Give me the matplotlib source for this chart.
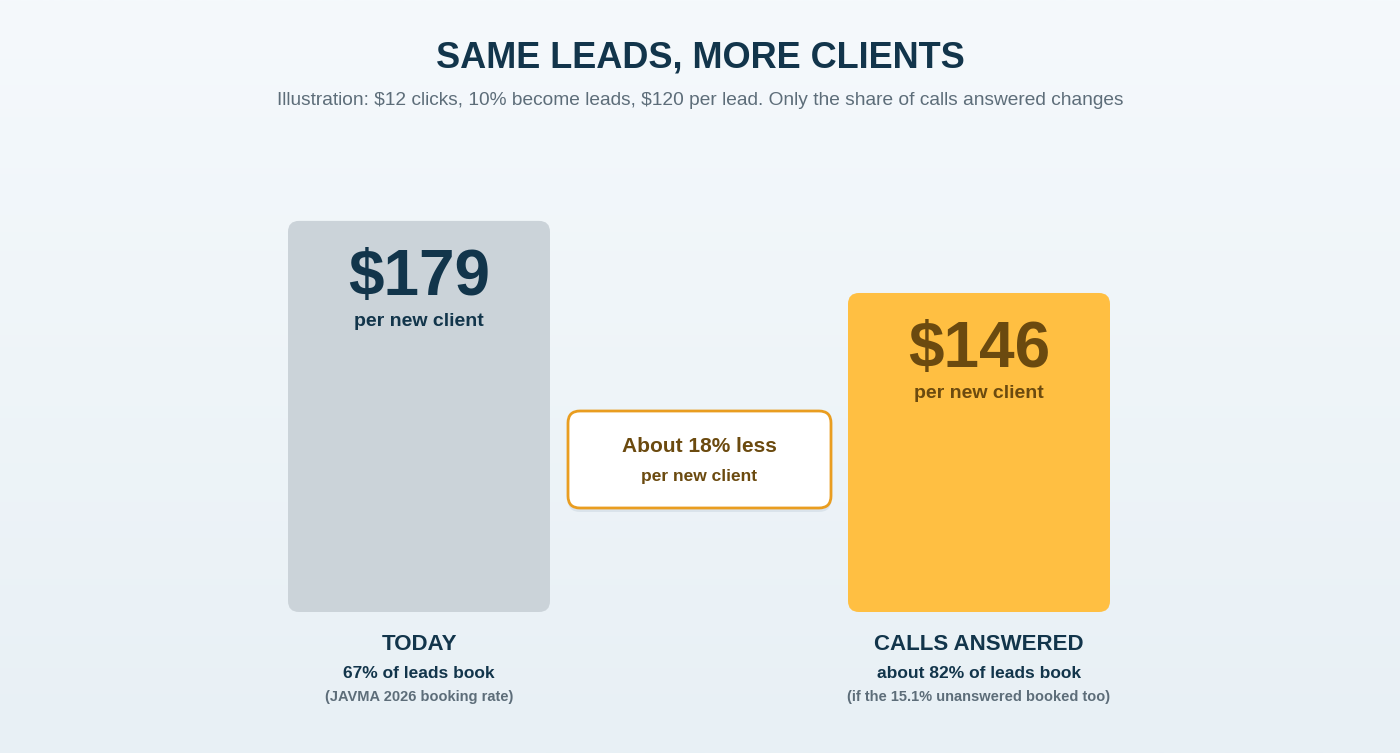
import numpy as np
import matplotlib
matplotlib.use("Agg")
import matplotlib.pyplot as plt
from matplotlib.patches import FancyBboxPatch

plt.rcParams['font.family'] = ['Liberation Sans', 'DejaVu Sans']
plt.rcParams['text.parse_math'] = False

# data
scenarios = ['TODAY', 'CALLS ANSWERED']
cost_per_client = [179, 146]
booking_lines = ['67% of leads book', 'about 82% of leads book']
note_lines = ['(JAVMA 2026 booking rate)', '(if the 15.1% unanswered booked too)']
title = 'SAME LEADS, MORE CLIENTS'
subtitle = ('Illustration: $12 clicks, 10% become leads, $120 per lead. '
            'Only the share of calls answered changes')
callout_main = 'About 18% less'
callout_sub = 'per new client'

navy = '#12354b'
brown = '#6b4a0f'
gray_text = '#5d6d79'
bar_colors = ['#cbd3d9', '#ffbf42']
value_colors = [navy, brown]

W, H = 1400, 753
fig = plt.figure(figsize=(W / 100, H / 100), dpi=100)

# background with a soft vertical gradient
bg = fig.add_axes([0, 0, 1, 1])
top = np.array([0xf5, 0xf9, 0xfc]) / 255
bot = np.array([0xe8, 0xf0, 0xf5]) / 255
t = np.linspace(0, 1, 256)[:, None]
grad = (top * (1 - t) + bot * t)[:, None, :]
bg.imshow(grad, extent=[0, W, H, 0], aspect='auto', zorder=0)
bg.set_xlim(0, W)
bg.set_ylim(H, 0)
bg.axis('off')

bg.text(W / 2, 67, title, ha='center', va='baseline', fontsize=26,
        fontweight='bold', color=navy)
bg.text(W / 2, 105, subtitle, ha='center', va='baseline', fontsize=13.8,
        color=gray_text)

# callout box between the bars
shadow = FancyBboxPatch((568, 415), 263, 97, boxstyle='round,pad=0,rounding_size=12',
                        fc='#d3dee6', ec='none', alpha=0.7, zorder=1)
bg.add_patch(shadow)
box = FancyBboxPatch((568, 411), 263, 97, boxstyle='round,pad=0,rounding_size=12',
                     fc='white', ec='#e99d20', lw=2, zorder=2)
bg.add_patch(box)
bg.text(699.5, 452, callout_main, ha='center', va='baseline', fontsize=15,
        fontweight='bold', color=brown, zorder=3)
bg.text(699.5, 481, callout_sub, ha='center', va='baseline', fontsize=12.5,
        fontweight='bold', color=brown, zorder=3)

# bar axes: zero line at y=612 px, 560 px between bar centres
base_px = 612
px_per_dollar = 2.185
ax = fig.add_axes([0, (H - base_px) / H, 1, base_px / H])
ax.patch.set_alpha(0)
ax.set_xlim(-419 / 560, (W - 419) / 560)
ax.set_ylim(0, base_px / px_per_dollar)
ax.axis('off')

width = 262 / 560
radius_x = 11 / 560
radius_y = 11 / px_per_dollar
x = np.arange(len(scenarios))
for i, val in enumerate(cost_per_client):
    p = FancyBboxPatch((x[i] - width / 2, 0), width, val,
                       boxstyle=f'round,pad=0,rounding_size={radius_x}',
                       mutation_aspect=radius_y / radius_x,
                       fc=bar_colors[i], ec='none')
    ax.add_patch(p)
    ax.annotate(f'${val}', (x[i], val), xytext=(0, -53.3), textcoords='offset points',
                ha='center', va='baseline', fontsize=46, fontweight='bold',
                color=value_colors[i])
    ax.annotate('per new client', (x[i], val), xytext=(0, -75.6),
                textcoords='offset points', ha='center', va='baseline',
                fontsize=14, fontweight='bold', color=value_colors[i])
    ax.annotate(scenarios[i], (x[i], 0), xytext=(0, -27.4), textcoords='offset points',
                ha='center', va='baseline', fontsize=16, fontweight='bold',
                color=navy, annotation_clip=False)
    ax.annotate(booking_lines[i], (x[i], 0), xytext=(0, -47.5), textcoords='offset points',
                ha='center', va='baseline', fontsize=12.5, fontweight='bold',
                color=navy, annotation_clip=False)
    ax.annotate(note_lines[i], (x[i], 0), xytext=(0, -64), textcoords='offset points',
                ha='center', va='baseline', fontsize=10.5, fontweight='bold',
                color=gray_text, annotation_clip=False)

fig.savefig('out.png', dpi=100)
